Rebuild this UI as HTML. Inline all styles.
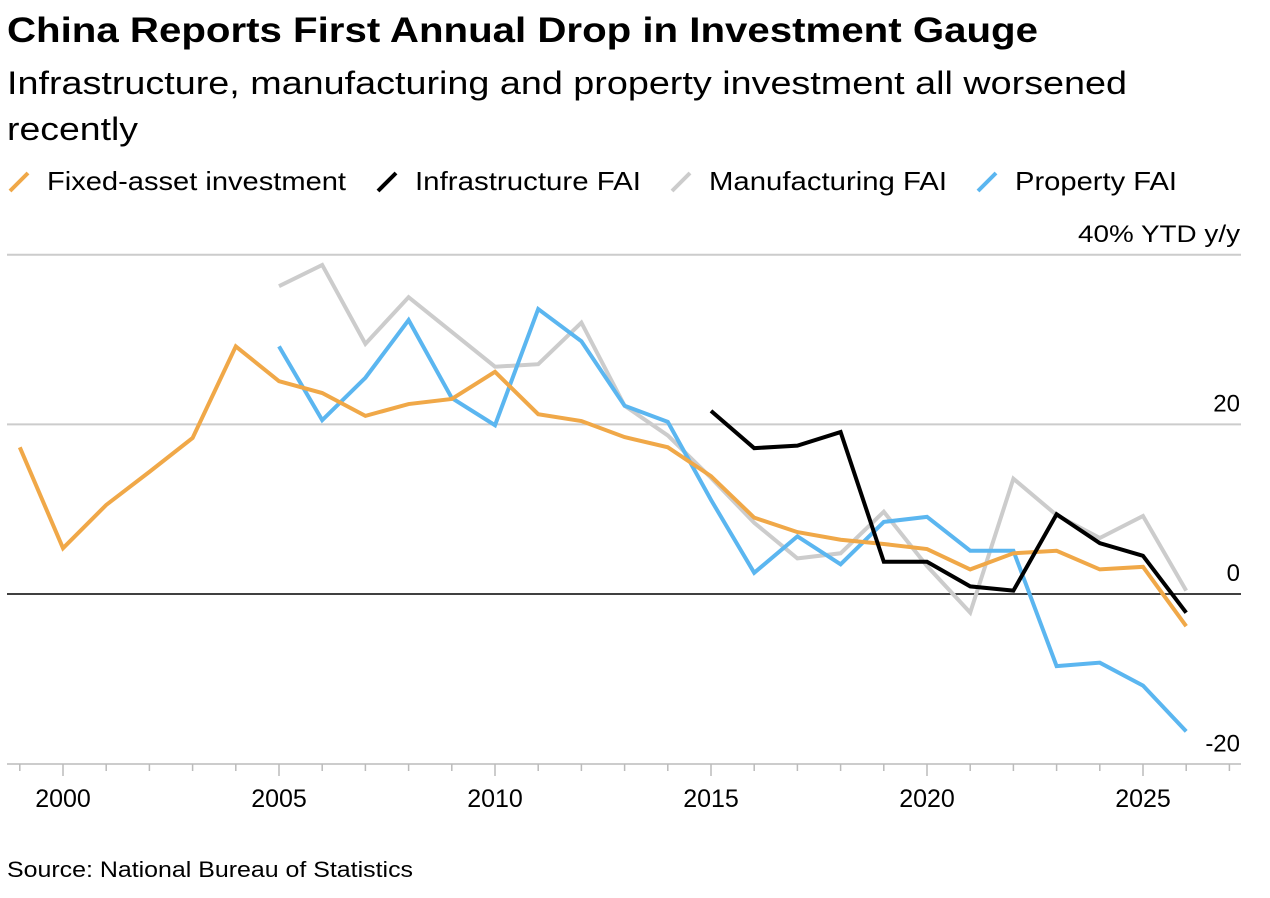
<!DOCTYPE html>
<html><head><meta charset="utf-8"><style>
body{margin:0;background:#fff;width:1270px;height:898px;overflow:hidden;font-family:"Liberation Sans",sans-serif;}
</style></head><body>
<svg width="1270" height="898" style="position:absolute;left:0;top:0">
<text x="7" y="42" font-size="35" font-weight="bold" fill="#000" textLength="1031" lengthAdjust="spacingAndGlyphs">China Reports First Annual Drop in Investment Gauge</text>
<text x="7" y="94" font-size="32" fill="#000" textLength="1120" lengthAdjust="spacingAndGlyphs">Infrastructure, manufacturing and property investment all worsened</text>
<text x="7" y="140" font-size="32" fill="#000" textLength="131" lengthAdjust="spacingAndGlyphs">recently</text>
<g id="legend"></g>
<g id="grid"></g><g id="axes"></g><g id="lines"></g>
<text x="7" y="877" font-size="22" fill="#000" textLength="406" lengthAdjust="spacingAndGlyphs">Source: National Bureau of Statistics</text>
</svg>
<script>
const years=[1999,2000,2001,2002,2003,2004,2005,2006,2007,2008,2009,2010,2011,2012,2013,2014,2015,2016,2017,2018,2019,2020,2021,2022,2023,2024,2025,2026];
const fai=[17.3,5.4,10.5,14.4,18.4,29.2,25.1,23.7,21.0,22.4,23.0,26.2,21.2,20.4,18.5,17.3,13.9,9.0,7.3,6.4,5.9,5.3,2.9,4.8,5.1,2.9,3.2,-3.8];
const mfgYears=[2005,2006,2007,2008,2009,2010,2011,2012,2013,2014,2015,2016,2017,2018,2019,2020,2021,2022,2023,2024,2025,2026];
const mfg=[36.3,38.8,29.5,35.0,30.9,26.8,27.1,32.0,22.2,18.7,13.7,8.4,4.2,4.8,9.7,3.3,-2.2,13.6,9.3,6.6,9.2,0.4];
const prop=[29.2,20.5,25.5,32.3,23.1,19.9,33.6,29.8,22.2,20.3,11.1,2.5,6.8,3.5,8.5,9.1,5.1,5.1,-8.5,-8.1,-10.8,-16.2];
const infraYears=[2015,2016,2017,2018,2019,2020,2021,2022,2023,2024,2025,2026];
const infra=[21.6,17.2,17.5,19.1,3.8,3.8,0.9,0.4,9.4,6.0,4.5,-2.2];
const yTicks=[40,20,0,-20];
const yTickLabels=["40% YTD y/y","20","0","-20"];
const xMajor=[2000,2005,2010,2015,2020,2025];
const legendNames=["Fixed-asset investment","Infrastructure FAI","Manufacturing FAI","Property FAI"];
const legendColors=["#f0a848","#000000","#cccccc","#5bb6f0"];

const X=y=>63+(y-2000)*43.2;
const Y=v=>594-v*8.48;
const NS="http://www.w3.org/2000/svg";
function mk(tag,attrs,parent){const e=document.createElementNS(NS,tag);for(const k in attrs)e.setAttribute(k,attrs[k]);parent.appendChild(e);return e;}
const grid=document.getElementById('grid'),axes=document.getElementById('axes'),lines=document.getElementById('lines'),legend=document.getElementById('legend');

yTicks.forEach((t,i)=>{
  if(t!==-20){const l=mk('line',{x1:7,x2:1241,y1:Y(t),y2:Y(t),stroke:t===0?'#000':'#ccc','stroke-width':t===0?1.5:2},grid);
  
  }
  const tx=mk('text',{x:1240,y:Y(t)-13,'font-size':24,'text-anchor':'end',fill:'#000'},axes);
  if(t===-20)tx.setAttribute('y',Y(t)-12);
  if(t===40){tx.setAttribute('textLength',162);tx.setAttribute('lengthAdjust','spacingAndGlyphs');}
  tx.textContent=yTickLabels[i];
  
  
});
const base=764;
const ax=mk('line',{x1:7,x2:1241,y1:base,y2:base,stroke:'#bbb','stroke-width':1.5},axes);


for(let y=1999;y<=2027;y++){
  const maj=xMajor.includes(y);
  const tk=mk('line',{x1:X(y),x2:X(y),y1:base,y2:base+(maj?12:7),stroke:'#bbb','stroke-width':1.5},axes);
  
  
}
xMajor.forEach(y=>{
  const t=mk('text',{x:X(y),y:807,'font-size':25,'text-anchor':'middle',fill:'#000'},axes);
  t.textContent=y;
  
  
});
function series(xs,vs,color,name){
  const d=xs.map((y,i)=>(i?'L':'M')+X(y)+','+Y(vs[i])).join(' ');
  const p=mk('path',{d:d,fill:'none',stroke:color,'stroke-width':4,'stroke-linejoin':'miter'},lines);
  
  
}
series(mfgYears,mfg,legendColors[2],'manufacturing-fai-line');
series(mfgYears,prop,legendColors[3],'property-fai-line');
series(years,fai,legendColors[0],'fixed-asset-investment-line');
series(infraYears,infra,legendColors[1],'infrastructure-fai-line');
const lx=[10,378,672,978];
const lw=[299,226,238,162];
legendNames.forEach((n,i)=>{
  const g=mk('g',{},legend);
  
  
  mk('line',{x1:lx[i],y1:191,x2:lx[i]+18,y2:173,stroke:legendColors[i],'stroke-width':4},g);
  const t=mk('text',{x:lx[i]+37,y:190,'font-size':26,fill:'#000',textLength:lw[i],lengthAdjust:'spacingAndGlyphs'},g);
  t.textContent=n;
});
</script>
</body></html>
